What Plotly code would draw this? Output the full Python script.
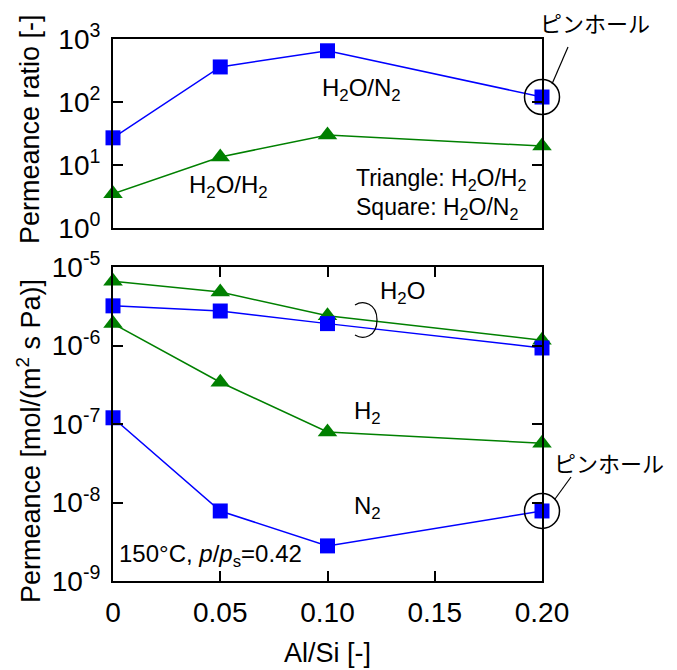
import plotly.graph_objects as go

# Al/Si ratio of the membranes
al_si = [0.0, 0.05, 0.10, 0.20]

# permeance ratios (upper panel)
ratio_h2o_n2 = [27, 360, 650, 120]
ratio_h2o_h2 = [3.5, 13.4, 30, 20]

# single-component permeances [mol/(m2 s Pa)] (lower panel)
perm_h2o_tri = [6.6e-6, 4.8e-6, 2.4e-6, 1.17e-6]
perm_h2o_sq = [3.2e-6, 2.75e-6, 1.9e-6, 9.3e-7]
perm_h2 = [1.9e-6, 3.4e-7, 7.9e-8, 5.7e-8]
perm_n2 = [1.2e-7, 7.8e-9, 2.8e-9, 7.8e-9]

x_ticks = [0, 0.05, 0.10, 0.15, 0.20]
x_ticktext = ["0", "0.05", "0.10", "0.15", "0.20"]
ratio_ticks = [1, 10, 100, 1000]
ratio_ticktext = ["10<sup>0</sup>", "10<sup>1</sup>", "10<sup>2</sup>", "10<sup>3</sup>"]
perm_ticks = [1e-9, 1e-8, 1e-7, 1e-6, 1e-5]
perm_ticktext = ["10<sup>-9</sup>", "10<sup>-8</sup>", "10<sup>-7</sup>",
                 "10<sup>-6</sup>", "10<sup>-5</sup>"]

BLUE = "#0000FF"
GREEN = "#008000"
FONT = "Arial, 'Liberation Sans', sans-serif"
JP = "'Noto Sans CJK JP', sans-serif"

W, H = 677, 670
L, R, T, B = 113, 542, 39, 581


def px(xp, yp):
    """pixel position -> paper coordinates"""
    return (xp - L) / (R - L), (B - yp) / (B - T)


fig = go.Figure()


def add_series(x, y, color, symbol, size, yaxis):
    fig.add_trace(go.Scatter(
        x=x, y=y, mode="lines+markers", xaxis="x" if yaxis == "y" else "x2",
        yaxis=yaxis, cliponaxis=False, showlegend=False,
        line=dict(color=color, width=1.5),
        marker=dict(symbol=symbol, size=size, color=color),
    ))


# upper panel: ratios
add_series(al_si, ratio_h2o_n2, BLUE, "square", 15, "y2")
add_series(al_si, ratio_h2o_h2, GREEN, "triangle-up", 17, "y2")

# lower panel: permeances
add_series(al_si, perm_h2o_tri, GREEN, "triangle-up", 17, "y")
add_series(al_si, perm_h2o_sq, BLUE, "square", 15, "y")
add_series(al_si, perm_h2, GREEN, "triangle-up", 17, "y")
add_series(al_si, perm_n2, BLUE, "square", 15, "y")

# pinhole circles around the last N2-related points
fig.add_trace(go.Scatter(
    x=[al_si[-1]], y=[ratio_h2o_n2[-1]], xaxis="x2", yaxis="y2", mode="markers",
    cliponaxis=False, showlegend=False,
    marker=dict(symbol="circle-open", size=35, color="black", line=dict(width=1.5)),
))
fig.add_trace(go.Scatter(
    x=[al_si[-1]], y=[perm_n2[-1]], xaxis="x", yaxis="y", mode="markers",
    cliponaxis=False, showlegend=False,
    marker=dict(symbol="circle-open", size=35, color="black", line=dict(width=1.5)),
))

axis_common = dict(
    showline=True, linecolor="black", linewidth=2, showgrid=False, zeroline=False,
    ticks="inside", ticklen=10, tickwidth=1.5, tickcolor="black",
    tickfont=dict(family=FONT, size=28, color="black"),
)

fig.update_layout(
    width=W, height=H,
    margin=dict(l=L, r=W - R, t=T, b=H - B),
    paper_bgcolor="white", plot_bgcolor="white",
    font=dict(family=FONT, color="black"),
    xaxis=dict(axis_common, domain=[0, 1], anchor="y", range=[0, 0.2],
               tickvals=x_ticks, ticktext=x_ticktext, mirror="ticks",
               ticklabelstandoff=5),
    xaxis2=dict(axis_common, domain=[0, 1], anchor="y2", range=[0, 0.2],
                ticks="", showticklabels=False, mirror=True),
    yaxis=dict(axis_common, type="log", range=[-9, -5],
               domain=[0, (B - 267) / (B - T)], anchor="x",
               tickvals=perm_ticks, ticktext=perm_ticktext, mirror="ticks",
               ticklabelstandoff=5),
    yaxis2=dict(axis_common, type="log", range=[0, 3],
                domain=[(B - 228) / (B - T), 1], anchor="x2",
                tickvals=ratio_ticks, ticktext=ratio_ticktext, mirror="ticks",
                ticklabelstandoff=5),
)


def note(text, xp, yp, size=24, xanchor="center", family=FONT, angle=0):
    x, y = px(xp, yp)
    fig.add_annotation(text=text, x=x, y=y, xref="paper", yref="paper",
                       xanchor=xanchor, yanchor="middle", showarrow=False,
                       textangle=angle, font=dict(family=family, size=size, color="black"))


# axis titles
note("Al/Si [-]", 327, 653, size=27)
note("Permeance ratio [-]", 30, 129, size=27, angle=-90)
note("Permeance [mol/(m<sup>2</sup> s Pa)]", 29, 441, size=27, angle=-90)

# upper panel labels
note("H<sub>2</sub>O/N<sub>2</sub>", 361, 90)
note("H<sub>2</sub>O/H<sub>2</sub>", 228, 186)
note("Triangle: H<sub>2</sub>O/H<sub>2</sub>", 354, 179, size=23, xanchor="left")
note("Square: H<sub>2</sub>O/N<sub>2</sub>", 354, 209, size=23, xanchor="left")
note("ピンホール", 595, 22, size=22, family=JP)

# lower panel labels
note("H<sub>2</sub>O", 402, 292)
note("H<sub>2</sub>", 367, 412)
note("N<sub>2</sub>", 367, 507)
note("ピンホール", 609, 462, size=22, family=JP)
note("150°C, <i>p</i>/<i>p</i><sub>s</sub>=0.42", 117, 555, xanchor="left")

# leader lines to the pinhole labels
for (xa, ya), (xb, yb) in [((552, 84), (568, 47)), ((555, 499), (571, 477))]:
    x0, y0 = px(xa, ya)
    x1, y1 = px(xb, yb)
    fig.add_shape(type="line", xref="paper", yref="paper", x0=x0, y0=y0, x1=x1, y1=y1,
                  line=dict(color="black", width=1.2))

# bracket grouping the two H2O curves
pts = [(355, 305), (363, 300), (377, 303), (377, 320), (377, 337), (363, 340), (355, 335)]
pp = [px(a, b) for a, b in pts]
path = "M {:.4f},{:.4f} C {:.4f},{:.4f} {:.4f},{:.4f} {:.4f},{:.4f} C {:.4f},{:.4f} {:.4f},{:.4f} {:.4f},{:.4f}".format(
    *[v for p in pp for v in p])
fig.add_shape(type="path", xref="paper", yref="paper", path=path,
              line=dict(color="black", width=1.2))

fig.write_html("out.html")
